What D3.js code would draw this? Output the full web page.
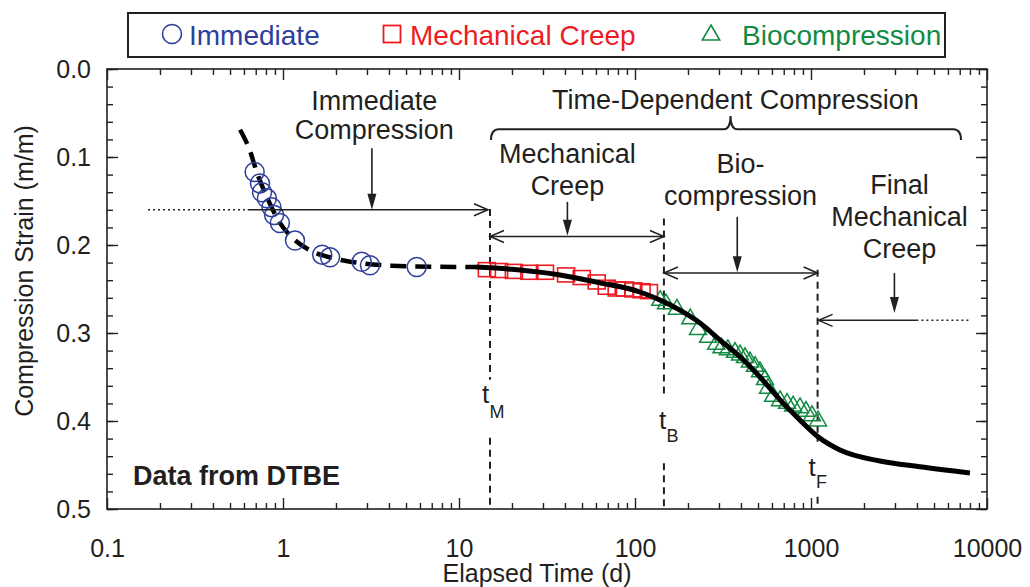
<!DOCTYPE html>
<html>
<head>
<meta charset="utf-8">
<script src="https://cdn.jsdelivr.net/npm/d3@7"></script>
<style>
  body { margin: 0; background: #fff; }
  svg { display: block; font-family: "Liberation Sans", Arial, Helvetica, sans-serif; }
</style>
</head>
<body>
<svg id="chart" width="1030" height="587"></svg>
<script>
// ---- measured data: elapsed time (d) and compression strain (m/m) ----
const immediateTime   = [0.69, 0.74, 0.76, 0.81, 0.86, 0.89, 0.96, 1.17, 1.67, 1.85, 2.80, 3.12, 5.75];
const immediateStrain = [0.117, 0.130, 0.140, 0.147, 0.157, 0.166, 0.175, 0.195, 0.211, 0.214, 0.219, 0.223, 0.225];

const creepTime   = [14.4, 16.9, 20.5, 25.1, 30.8, 40.6, 49.8, 60.6, 69.1, 78.7, 87.7, 97.8, 109, 120];
const creepStrain = [0.228, 0.229, 0.230, 0.231, 0.231, 0.234, 0.237, 0.242, 0.248, 0.250, 0.250, 0.251, 0.252, 0.253];

const bioTime   = [139, 150, 173, 206, 228, 260, 289, 310, 337, 370, 395, 422, 450, 481, 513, 548, 570, 609, 667, 731, 791, 866, 937, 1013, 1096];
const bioStrain = [0.263, 0.267, 0.273, 0.284, 0.296, 0.305, 0.313, 0.317, 0.319, 0.322, 0.325, 0.328, 0.333, 0.338, 0.344, 0.353, 0.363, 0.372, 0.377, 0.380, 0.383, 0.385, 0.389, 0.394, 0.400];

// fitted curves
const immFitTime   = [0.57, 0.635, 0.724, 0.825, 0.94, 1.12, 1.42, 1.93, 2.62, 4.15, 7.12, 12.5];
const immFitStrain = [0.069, 0.088, 0.122, 0.149, 0.172, 0.191, 0.206, 0.215, 0.220, 0.2235, 0.2247, 0.225];

const tdFitTime   = [12.5, 22.2, 37.5, 63.3, 106.7, 138.7, 180, 234, 304, 395, 513, 667, 866, 1096, 1461, 2466, 4160, 8000];
const tdFitStrain = [0.225, 0.2284, 0.234, 0.243, 0.2534, 0.2625, 0.274, 0.2886, 0.308, 0.327, 0.350, 0.376, 0.399, 0.418, 0.433, 0.4455, 0.452, 0.459];

// phase boundaries t_M, t_B, t_F (d)
const phaseTimes  = [15, 146, 1090];
const phaseSubs   = ["M", "B", "F"];

// axes
const xTickValues = [0.1, 1, 10, 100, 1000, 10000];
const xTickLabels = ["0.1", "1", "10", "100", "1000", "10000"];
const yTickValues = [0, 0.1, 0.2, 0.3, 0.4, 0.5];
const yTickLabels = ["0.0", "0.1", "0.2", "0.3", "0.4", "0.5"];

const legendLabels = ["Immediate", "Mechanical Creep", "Biocompression"];

// ---- drawing ----
const INK = "#231f20", BLUE = "#2e3f9c", RED = "#ed1c24", GREEN = "#138a43";
const svg = d3.select("#chart");

const x = d3.scaleLog().domain([0.1, 10000]).range([107, 987]);
const y = d3.scaleLinear().domain([0, 0.5]).range([69, 509]);

// minor ticks
const xMinor = [];
[0.1, 1, 10, 100, 1000].forEach(d => { for (let k = 2; k <= 9; k++) xMinor.push(d * k); });
const yMinor = d3.range(0, 0.5001, 0.02);

function styleAxis(g) {
  g.select(".domain").remove();
  g.selectAll("line").attr("stroke", INK).attr("stroke-width", 1.4);
  g.selectAll("text").attr("fill", INK).attr("font-size", 25)
    .attr("font-family", '"Liberation Sans", Arial, sans-serif');
}

// bottom
svg.append("g").attr("transform", `translate(0,${y(0.5)})`)
  .call(d3.axisBottom(x).tickValues(xMinor).tickSizeInner(-6).tickSizeOuter(0).tickFormat(""))
  .call(styleAxis);
svg.append("g").attr("transform", `translate(0,${y(0.5)})`)
  .call(d3.axisBottom(x).tickValues(xTickValues).tickSizeInner(-11).tickSizeOuter(0)
    .tickPadding(30).tickFormat((d, i) => xTickLabels[i]))
  .call(styleAxis);
// top
svg.append("g").attr("transform", `translate(0,${y(0)})`)
  .call(d3.axisTop(x).tickValues(xMinor).tickSizeInner(-6).tickSizeOuter(0).tickFormat(""))
  .call(styleAxis);
svg.append("g").attr("transform", `translate(0,${y(0)})`)
  .call(d3.axisTop(x).tickValues(xTickValues).tickSizeInner(-11).tickSizeOuter(0).tickFormat(""))
  .call(styleAxis);
// left
svg.append("g").attr("transform", `translate(${x(0.1)},0)`)
  .call(d3.axisLeft(y).tickValues(yMinor).tickSizeInner(-6).tickSizeOuter(0).tickFormat(""))
  .call(styleAxis);
svg.append("g").attr("transform", `translate(${x(0.1)},0)`)
  .call(d3.axisLeft(y).tickValues(yTickValues).tickSizeInner(-11).tickSizeOuter(0)
    .tickPadding(16).tickFormat((d, i) => yTickLabels[i]))
  .call(styleAxis);
// right
svg.append("g").attr("transform", `translate(${x(10000)},0)`)
  .call(d3.axisRight(y).tickValues(yMinor).tickSizeInner(-6).tickSizeOuter(0).tickFormat(""))
  .call(styleAxis);
svg.append("g").attr("transform", `translate(${x(10000)},0)`)
  .call(d3.axisRight(y).tickValues(yTickValues).tickSizeInner(-11).tickSizeOuter(0).tickFormat(""))
  .call(styleAxis);

// frame
svg.append("rect")
  .attr("x", x(0.1)).attr("y", y(0))
  .attr("width", x(10000) - x(0.1)).attr("height", y(0.5) - y(0))
  .attr("fill", "none").attr("stroke", INK).attr("stroke-width", 1.6);

// axis titles
svg.append("text").attr("x", 537).attr("y", 582).attr("text-anchor", "middle")
  .attr("font-size", 25).attr("fill", INK).text("Elapsed Time (d)");
svg.append("text").attr("transform", "translate(33,271) rotate(-90)").attr("text-anchor", "middle")
  .attr("font-size", 25).attr("fill", INK).text("Compression Strain (m/m)");

// text helper
function label(str, px, py, size, anchor = "middle", weight = "normal", fill = INK) {
  return svg.append("text").attr("x", px).attr("y", py).attr("text-anchor", anchor)
    .attr("font-size", size).attr("font-weight", weight).attr("fill", fill).text(str);
}
function line(x1, y1, x2, y2, w = 1.5, dash = null) {
  const l = svg.append("line").attr("x1", x1).attr("y1", y1).attr("x2", x2).attr("y2", y2)
    .attr("stroke", INK).attr("stroke-width", w);
  if (dash) l.attr("stroke-dasharray", dash);
  return l;
}
// open arrow head, tip at (px,py), dir = +1 pointing right, -1 pointing left
function openHead(px, py, dir) {
  svg.append("path")
    .attr("d", `M${px - dir * 14},${py - 6}L${px},${py}L${px - dir * 14},${py + 6}`)
    .attr("fill", "none").attr("stroke", INK).attr("stroke-width", 1.5);
}
// vertical down arrow with filled head, tip at (px, yTip)
function downArrow(px, yTop, yTip) {
  line(px, yTop, px, yTip - 8, 1.6);
  svg.append("path")
    .attr("d", `M${px},${yTip}L${px - 4.5},${yTip - 16}L${px + 4.5},${yTip - 16}Z`)
    .attr("fill", INK);
}

// phase boundary lines (dashed, broken around their labels)
const vDash = "7,5";
const boundaryGaps = [[0.159, 0.353, 0.419], [0.170, 0.370, 0.448], [0.228, 0.4235, 0.486]];
phaseTimes.forEach((t, i) => {
  const px = x(t), g = boundaryGaps[i];
  line(px, y(g[0]), px, y(g[1]), 2, vDash);
  line(px, y(g[2]), px, y(0.5), 2, vDash);
});
// t_M, t_B, t_F labels
const tLabelPos = [[-8, 0.3795, 0.3966], [-5, 0.409, 0.4239], [-9, 0.4625, 0.4761]];
phaseTimes.forEach((t, i) => {
  const px = x(t) + tLabelPos[i][0];
  label("t", px, y(tLabelPos[i][1]), 26, "start");
  label(phaseSubs[i], px + 7.5, y(tLabelPos[i][2]), 18, "start");
});

// fitted curves
const fitLine = d3.line().x(d => x(d[0])).y(d => y(d[1])).curve(d3.curveMonotoneX);
svg.append("path").datum(immFitTime.map((t, i) => [t, immFitStrain[i]]))
  .attr("d", fitLine).attr("fill", "none").attr("stroke", "#000")
  .attr("stroke-width", 4.5).attr("stroke-dasharray", "16,9");

// markers
svg.append("g").selectAll("circle").data(immediateTime.map((t, i) => [t, immediateStrain[i]])).join("circle")
  .attr("cx", d => x(d[0])).attr("cy", d => y(d[1])).attr("r", 9.5)
  .attr("fill", "none").attr("stroke", BLUE).attr("stroke-width", 1.5);

const sqW = 17, sqH = 14;
svg.append("g").selectAll("rect").data(creepTime.map((t, i) => [t, creepStrain[i]])).join("rect")
  .attr("x", d => x(d[0]) - sqW / 2).attr("y", d => y(d[1]) - sqH / 2)
  .attr("width", sqW).attr("height", sqH)
  .attr("fill", "none").attr("stroke", RED).attr("stroke-width", 1.6);

const tri = d3.symbol().type(d3.symbolTriangle).size(125);
svg.append("g").selectAll("path").data(bioTime.map((t, i) => [t, bioStrain[i]])).join("path")
  .attr("transform", d => `translate(${x(d[0])},${y(d[1])})`).attr("d", tri)
  .attr("fill", "none").attr("stroke", GREEN).attr("stroke-width", 1.5);

svg.append("path").datum(tdFitTime.map((t, i) => [t, tdFitStrain[i]]))
  .attr("d", fitLine).attr("fill", "none").attr("stroke", "#000").attr("stroke-width", 5);

// ---- annotations ----
const annSize = 27;
// immediate compression
label("Immediate", x(3.3), y(0.0467), annSize);
label("Compression", x(3.3), y(0.080), annSize);
downArrow(x(3.2), y(0.090), y(0.160));
line(x(0.171), y(0.16), x(0.63), y(0.16), 1.5, "2,3");
line(x(0.63), y(0.16), x(phaseTimes[0]) - 2, y(0.16), 1.5);
openHead(x(phaseTimes[0]) - 2, y(0.16), 1);

// time-dependent compression with brace
label("Time-Dependent Compression", x(372), y(0.0455), annSize);
{
  const L = x(phaseTimes[0]) + 1, R = x(7117), C = x(349);
  const yb = y(0.0685), yEnd = y(0.0807), yPeak = y(0.0534);
  svg.append("path")
    .attr("d", `M${L},${yEnd}Q${L},${yb} ${L + 8},${yb}L${C - 7},${yb}Q${C},${yb} ${C},${yPeak}` +
               `Q${C},${yb} ${C + 7},${yb}L${R - 8},${yb}Q${R},${yb} ${R},${yEnd}`)
    .attr("fill", "none").attr("stroke", INK).attr("stroke-width", 2);
}

// mechanical creep
label("Mechanical", x(41.3), y(0.1068), annSize);
label("Creep", x(41.3), y(0.1432), annSize);
downArrow(x(41.3), y(0.151), y(0.1895));
{
  const yy = y(0.1903), a = x(phaseTimes[0]), b = x(phaseTimes[1]);
  line(a, yy, b, yy, 1.5);
  openHead(a, yy, -1); openHead(b, yy, 1);
}

// biocompression
label("Bio-", x(398), y(0.1177), annSize);
label("compression", x(398), y(0.1542), annSize);
downArrow(x(381), y(0.168), y(0.231));
{
  const yy = y(0.2318), a = x(phaseTimes[1]), b = x(phaseTimes[2]);
  line(a, yy, b, yy, 1.5);
  openHead(a, yy, -1); openHead(b, yy, 1);
}

// final mechanical creep
label("Final", x(3184), y(0.1415), annSize);
label("Mechanical", x(3184), y(0.1788), annSize);
label("Creep", x(3184), y(0.2145), annSize);
downArrow(x(2978), y(0.2318), y(0.2772));
{
  const yy = y(0.2856);
  line(x(phaseTimes[2]) + 1, yy, x(3971), yy, 1.5);
  line(x(3971), yy, x(7885), yy, 1.5, "2,3");
  openHead(x(phaseTimes[2]) + 1, yy, -1);
}

// data source note
label("Data from DTBE", 133, 485, 27, "start", "bold");

// ---- legend ----
const lg = svg.append("g");
lg.append("rect").attr("x", 128).attr("y", 13).attr("width", 817).attr("height", 44)
  .attr("fill", "#fff").attr("stroke", INK).attr("stroke-width", 2);
const legendColors = [BLUE, RED, GREEN];
const legendMarkX = [172, 392, 711];
const legendTextX = [189, 410, 742];
lg.append("circle").attr("cx", legendMarkX[0]).attr("cy", 34).attr("r", 9.5)
  .attr("fill", "none").attr("stroke", BLUE).attr("stroke-width", 1.6);
lg.append("rect").attr("x", legendMarkX[1] - 8.5).attr("y", 25.5).attr("width", 17).attr("height", 17)
  .attr("fill", "none").attr("stroke", RED).attr("stroke-width", 1.8);
lg.append("path").attr("transform", `translate(${legendMarkX[2]},35)`)
  .attr("d", d3.symbol().type(d3.symbolTriangle).size(130))
  .attr("fill", "none").attr("stroke", GREEN).attr("stroke-width", 1.6);
legendLabels.forEach((s, i) => {
  lg.append("text").attr("x", legendTextX[i]).attr("y", 45).attr("font-size", 28)
    .attr("fill", legendColors[i]).text(s);
});
</script>
</body>
</html>
